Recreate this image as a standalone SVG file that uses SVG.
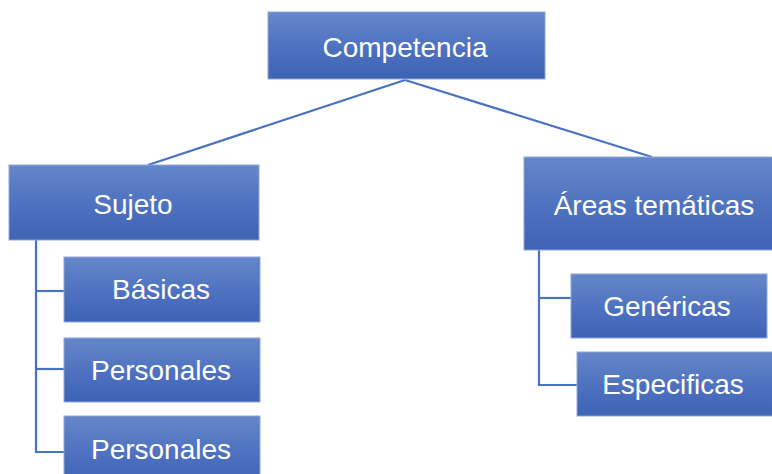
<svg xmlns="http://www.w3.org/2000/svg" width="772" height="474" viewBox="0 0 772 474">
<defs>
<linearGradient id="g" x1="0" y1="0" x2="0" y2="1">
<stop offset="0" stop-color="#6686c9"/>
<stop offset="0.5" stop-color="#4f73c0"/>
<stop offset="1" stop-color="#3f63b5"/>
</linearGradient>
</defs>
<style>
.box{fill:url(#g);stroke:#8fa6d9;stroke-width:1}
.t{font-family:"Liberation Sans",Arial,sans-serif;fill:#ffffff;text-anchor:middle;font-size:28px}
.c{stroke:#4a72c2;stroke-width:2.2;fill:none}
</style>
<g id="connectors">
<line class="c" x1="405" y1="80" x2="148" y2="165"/>
<line class="c" x1="405" y1="80" x2="652" y2="157"/>
<polyline class="c" points="36,240 36,452 64,452"/>
<line class="c" x1="36" y1="291" x2="64" y2="291"/>
<line class="c" x1="36" y1="369" x2="64" y2="369"/>
<polyline class="c" points="539,250 539,385 577,385"/>
<line class="c" x1="539" y1="298" x2="571" y2="298"/>
</g>
<g id="competencia">
<rect class="box" x="268" y="12" width="277" height="67"/>
<text class="t" x="405" y="57" font-size="30.5">Competencia</text>
</g>
<g id="sujeto">
<rect class="box" x="9" y="165" width="250" height="75"/>
<text class="t" x="133" y="214">Sujeto</text>
</g>
<g id="basicas">
<rect class="box" x="64" y="257" width="196" height="65"/>
<text class="t" x="161" y="299">Básicas</text>
</g>
<g id="personales1">
<rect class="box" x="64" y="338" width="196" height="64"/>
<text class="t" x="161" y="380">Personales</text>
</g>
<g id="personales2">
<rect class="box" x="64" y="416" width="196" height="70"/>
<text class="t" x="161" y="459">Personales</text>
</g>
<g id="areas">
<rect class="box" x="524" y="157" width="260" height="93"/>
<text class="t" x="654" y="215">Áreas temáticas</text>
</g>
<g id="genericas">
<rect class="box" x="571" y="274" width="196" height="64"/>
<text class="t" x="667" y="316">Genéricas</text>
</g>
<g id="especificas">
<rect class="box" x="577" y="352" width="207" height="64"/>
<text class="t" x="673" y="394">Especificas</text>
</g>
</svg>
